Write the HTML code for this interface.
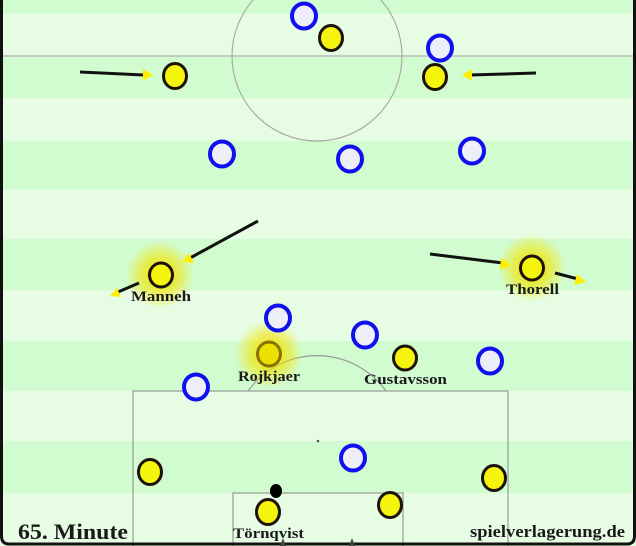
<!DOCTYPE html>
<html><head><meta charset="utf-8"><style>
html,body{margin:0;padding:0;background:#fff}
svg{display:block}
text{font-family:"Liberation Serif",serif;font-weight:bold;fill:#1a1a1a}
</style></head><body>
<svg width="636" height="546" viewBox="0 0 636 546" xmlns="http://www.w3.org/2000/svg">
<defs>
<radialGradient id="glow"><stop offset="0" stop-color="#f2e400" stop-opacity="1"/><stop offset="0.55" stop-color="#f2e400" stop-opacity="0.6"/><stop offset="1" stop-color="#f2e400" stop-opacity="0"/></radialGradient>
</defs>
<rect x="0" y="0" width="636" height="546" fill="#e6fde4"/>
<g fill="#d1fccf">
<rect x="0" y="0" width="636" height="14"/>
<rect x="0" y="56" width="636" height="42"/>
<rect x="0" y="141" width="636" height="49"/>
<rect x="0" y="239" width="636" height="51"/>
<rect x="0" y="341" width="636" height="50"/>
<rect x="0" y="441" width="636" height="52"/>
</g>
<g fill="none" stroke="#aaa" stroke-width="1.2">
<line x1="0" y1="56" x2="636" y2="56" stroke="#c4c9c4" stroke-width="2"/>
<ellipse cx="317" cy="56" rx="85" ry="85"/>
<rect x="133" y="391" width="375" height="170" stroke="#999"/>
<rect x="233" y="493" width="170" height="70" stroke="#999"/>
<path d="M248,391 A85,85 0 0 1 386,391" stroke="#999"/>
</g>
<circle cx="318" cy="441" r="1.3" fill="#555"/>
<path d="M1.5,0 V536 Q1.5,544 9,544 H627 Q634.5,544 634.5,536 V0" fill="none" stroke="#111" stroke-width="3"/>
<path d="M280,546 L283,538 L286,546Z M349,546 L352,538 L355,546Z" fill="#444"/>
<circle cx="160" cy="275" r="34" fill="url(#glow)"/>
<circle cx="532" cy="268" r="34" fill="url(#glow)"/>
<circle cx="269" cy="354" r="34" fill="url(#glow)"/>
<g stroke="#111" stroke-width="3" fill="none">
<line x1="80" y1="72" x2="144" y2="75"/>
<line x1="536" y1="73" x2="470" y2="75"/>
<line x1="258" y1="221" x2="190" y2="258"/>
<line x1="139" y1="283" x2="118" y2="292"/>
<line x1="430" y1="254" x2="503" y2="263"/>
<line x1="555" y1="273" x2="578" y2="279"/>
</g>
<g fill="#ffee00">
<polygon points="153,75 143,69 143,81"/>
<polygon points="462,75 472,69 472,81"/>
<polygon points="182,262 189,253 194,263"/>
<polygon points="110,296 117,288 121,297"/>
<polygon points="511,265 501,258 500,270"/>
<polygon points="586,282 577,274 574,285"/>
</g>
<g fill="#eeeef8" stroke="#1010ee" stroke-width="4">
<ellipse cx="304" cy="16" rx="12" ry="12.5"/>
<ellipse cx="440" cy="48" rx="12" ry="12.5"/>
<ellipse cx="222" cy="154" rx="12" ry="12.5"/>
<ellipse cx="350" cy="159" rx="12" ry="12.5"/>
<ellipse cx="472" cy="151" rx="12" ry="12.5"/>
<ellipse cx="278" cy="318" rx="12" ry="12.5"/>
<ellipse cx="365" cy="335" rx="12" ry="12.5"/>
<ellipse cx="490" cy="361" rx="12" ry="12.5"/>
<ellipse cx="196" cy="387" rx="12" ry="12.5"/>
<ellipse cx="353" cy="458" rx="12" ry="12.5"/>
</g>
<g fill="#f4f40c" stroke="#1c120a" stroke-width="3">
<ellipse cx="331" cy="38" rx="11.5" ry="12.5"/>
<ellipse cx="175" cy="76" rx="11.5" ry="12.5"/>
<ellipse cx="435" cy="77" rx="11.5" ry="12.5"/>
<ellipse cx="161" cy="275" rx="11.5" ry="12"/>
<ellipse cx="532" cy="268" rx="11.5" ry="12"/>
<ellipse cx="405" cy="358" rx="11.5" ry="12"/>
<ellipse cx="150" cy="472" rx="11.5" ry="12.5"/>
<ellipse cx="494" cy="478" rx="11.5" ry="12.5"/>
<ellipse cx="268" cy="512" rx="11.5" ry="12.5"/>
<ellipse cx="390" cy="505" rx="11.5" ry="12.5"/>
<ellipse cx="269" cy="354" rx="11.5" ry="12" fill="#ebe000" stroke="#8a7000"/>
</g>
<ellipse cx="276" cy="491" rx="6" ry="7" fill="#000"/>
<g font-size="15">
<text x="131" y="301" textLength="60" lengthAdjust="spacingAndGlyphs">Manneh</text>
<text x="506" y="294" textLength="53" lengthAdjust="spacingAndGlyphs">Thorell</text>
<text x="238" y="381" textLength="62" lengthAdjust="spacingAndGlyphs">Rojkjaer</text>
<text x="364" y="384" textLength="83" lengthAdjust="spacingAndGlyphs">Gustavsson</text>
<text x="233" y="538" textLength="71" lengthAdjust="spacingAndGlyphs">Törnqvist</text>
</g>
<text x="18" y="539" font-size="22" textLength="110" lengthAdjust="spacingAndGlyphs">65. Minute</text>
<text x="470" y="537" font-size="17" textLength="155" lengthAdjust="spacingAndGlyphs">spielverlagerung.de</text>
</svg>
</body></html>
